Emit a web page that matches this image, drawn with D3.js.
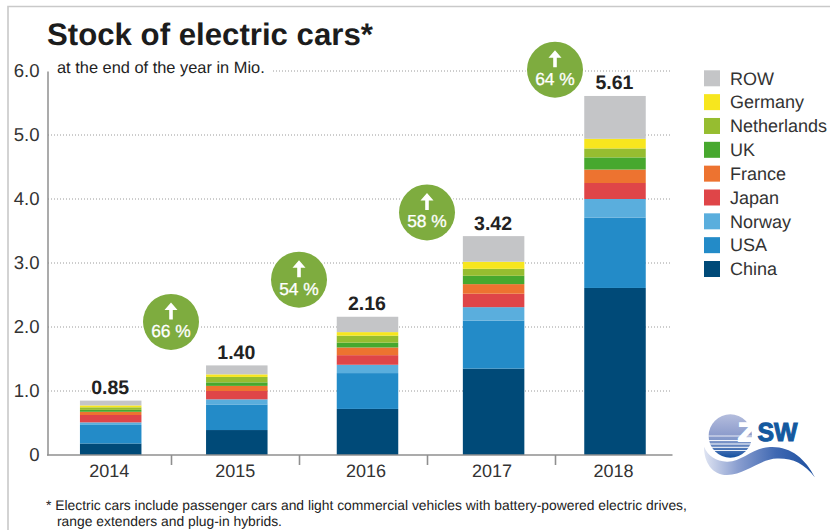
<!DOCTYPE html>
<html>
<head>
<meta charset="utf-8">
<script src="https://cdn.jsdelivr.net/npm/d3@7"></script>
<style>
  html, body { margin: 0; padding: 0; background: #fff; }
  svg { display: block; font-family: "Liberation Sans", Arial, sans-serif; text-rendering: geometricPrecision; }
</style>
</head>
<body>
<svg id="chart" width="830" height="530"></svg>
<script>
// Stock of electric cars by market, million vehicles at year end
const years = [2014, 2015, 2016, 2017, 2018];
const china = [0.18, 0.39, 0.72, 1.35, 2.61];
const usa = [0.29, 0.40, 0.56, 0.75, 1.10];
const norway = [0.04, 0.08, 0.13, 0.21, 0.29];
const japan = [0.115, 0.13, 0.15, 0.21, 0.25];
const france = [0.05, 0.08, 0.12, 0.15, 0.21];
const uk = [0.03, 0.055, 0.075, 0.13, 0.19];
const netherlands = [0.04, 0.085, 0.11, 0.11, 0.14];
const germany = [0.03, 0.04, 0.055, 0.11, 0.15];
const row = [0.075, 0.14, 0.24, 0.40, 0.67];
const totals = [0.85, 1.40, 2.16, 3.42, 5.61];
const growth = [66, 54, 58, 64];
const growthHeights = [2.08, 2.74, 3.79, 6.02];
const yTicks = [0, 1, 2, 3, 4, 5, 6];

const seriesNames = ["China", "USA", "Norway", "Japan", "France", "UK", "Netherlands", "Germany", "ROW"];
const seriesColors = ["#004a78", "#238bc8", "#5aaedd", "#df4548", "#ed7330", "#47a82e", "#96bd30", "#f7e61e", "#c4c5c7"];
const seriesValues = [china, usa, norway, japan, france, uk, netherlands, germany, row];

const svg = d3.select("#chart");
const ink = "#222";
const axisGrey = "#8f8f8f";

// Outer frame: only the top and left edges are visible
svg.append("path")
  .attr("d", d3.line()([[8, 530], [8, 6.5], [830, 6.5]]))
  .attr("fill", "none").attr("stroke", "#c9c9c9").attr("stroke-width", 1.6);

// Scales
const y = d3.scaleLinear().domain([0, 6]).range([455, 71]);
const barWidth = 61.5;
const xBar = d3.scaleOrdinal().domain(years).range([110.7, 236.8, 367.5, 493.6, 615]);
const xGap = d3.scaleLinear().domain([2014, 2017]).range([171, 555]);

// Dotted gridlines
svg.append("g").selectAll("line")
  .data(yTicks.filter(d => d > 0))
  .join("line")
  .attr("x1", 48).attr("x2", 672)
  .attr("y1", d => y(d)).attr("y2", d => y(d))
  .attr("stroke", "#9a9a9a").attr("stroke-width", 1).attr("stroke-dasharray", "1 2");

// Subtitle sits on the top gridline and interrupts it
svg.append("rect").attr("x", 48).attr("y", 60).attr("width", 225).attr("height", 20).attr("fill", "#fff");
svg.append("text").attr("x", 57).attr("y", 73)
  .attr("font-size", 16.4).attr("fill", ink)
  .text("at the end of the year in Mio.");

// Stacked bars
const table = years.map((yr, i) => {
  const rowObj = { year: yr };
  seriesNames.forEach((n, s) => { rowObj[n] = seriesValues[s][i]; });
  return rowObj;
});
const stacked = d3.stack().keys(seriesNames)(table);
svg.append("g").selectAll("g")
  .data(stacked)
  .join("g")
  .attr("fill", (d, i) => seriesColors[i])
  .selectAll("rect")
  .data(d => d)
  .join("rect")
  .attr("x", d => xBar(d.data.year) - barWidth / 2)
  .attr("width", barWidth)
  .attr("y", d => y(d[1]))
  .attr("height", d => y(d[0]) - y(d[1]));

// Y axis
const yAxis = svg.append("g")
  .attr("transform", "translate(47.5,0)")
  .call(d3.axisLeft(y).tickValues(yTicks).tickSize(0).tickPadding(8)
    .tickFormat(d => d === 0 ? "0" : d3.format(".1f")(d)));
yAxis.select(".domain").attr("stroke", axisGrey).attr("stroke-width", 1.5);
yAxis.selectAll("text").attr("font-size", 18.6).attr("font-family", "inherit").attr("fill", "#333");

// X axis: baseline and the tick marks between years
const xAxis = svg.append("g")
  .attr("transform", "translate(0,455)")
  .call(d3.axisBottom(xGap).tickValues(years.slice(0, 4)).tickSize(10).tickFormat(""));
xAxis.select(".domain").remove();
xAxis.selectAll("line").attr("stroke", axisGrey).attr("stroke-width", 1.6);
svg.append("line").attr("x1", 47).attr("x2", 672.5).attr("y1", 455).attr("y2", 455)
  .attr("stroke", axisGrey).attr("stroke-width", 1.3);

// Year labels
svg.append("g").selectAll("text")
  .data(years)
  .join("text")
  .attr("x", d => xBar(d) - 1.5)
  .attr("y", 477)
  .attr("text-anchor", "middle")
  .attr("font-size", 18).attr("fill", "#333")
  .text(d => d);

// Totals above each bar
svg.append("g").selectAll("text")
  .data(totals)
  .join("text")
  .attr("x", (d, i) => xBar(years[i]) - 0.5)
  .attr("y", d => y(d) - 6.5)
  .attr("text-anchor", "middle")
  .attr("font-size", 19.5).attr("font-weight", "bold").attr("fill", ink)
  .attr("stroke", "#fff").attr("stroke-width", 3).attr("paint-order", "stroke")
  .text(d => d.toFixed(2));

// Growth badges between consecutive years
const badge = svg.append("g").selectAll("g")
  .data(growth)
  .join("g")
  .attr("transform", (d, i) => `translate(${xGap(years[i])},${y(growthHeights[i])})`);
badge.append("circle").attr("r", 28).attr("fill", "#7eac3f")
  .attr("stroke", "#fff").attr("stroke-width", 3).attr("paint-order", "stroke");
badge.append("path")
  .attr("d", "M-1.8,-2.5 L-1.8,-12 L-6.5,-12 L0,-19.5 L6.5,-12 L1.8,-12 L1.8,-2.5 Z")
  .attr("fill", "#fff");
badge.append("text")
  .attr("y", 15).attr("text-anchor", "middle")
  .attr("font-size", 17.4).attr("fill", "#fff")
  .attr("stroke", "#fff").attr("stroke-width", 0.3)
  .text(d => `${d} %`);

// Title
svg.append("text").attr("x", 47).attr("y", 45)
  .attr("font-size", 31.2).attr("font-weight", "bold").attr("fill", "#1c1c1c")
  .text("Stock of electric cars*");

// Legend, listed from the top of the stack down
const legendScale = d3.scalePoint().domain(seriesNames.slice().reverse()).range([78.3, 269]);
const legend = svg.append("g").selectAll("g")
  .data(seriesNames.map((n, i) => ({ n, c: seriesColors[i] })))
  .join("g")
  .attr("transform", d => `translate(704,${legendScale(d.n)})`);
legend.append("rect").attr("y", -8).attr("width", 16).attr("height", 16).attr("fill", d => d.c);
legend.append("text").attr("x", 26).attr("y", 6.2)
  .attr("font-size", 18).attr("fill", "#333").text(d => d.n);

// Footnote
const footnote = svg.append("g").attr("font-size", 13.87).attr("fill", ink);
footnote.append("text").attr("x", 46).attr("y", 510)
  .text("* Electric cars include passenger cars and light commercial vehicles with battery-powered electric drives,");
footnote.append("text").attr("x", 57).attr("y", 526)
  .text("range extenders and plug-in hybrids.");

// ZSW logo
const defs = svg.append("defs");
const disc = defs.append("linearGradient").attr("id", "logoDisc")
  .attr("x1", 0).attr("y1", 0).attr("x2", 0).attr("y2", 1);
[[0, "#b4bddd"], [0.45, "#8f9ecd"], [0.62, "#7f97c9"], [1, "#124f9f"]]
  .forEach(([o, c]) => disc.append("stop").attr("offset", o).attr("stop-color", c));
const swoosh = defs.append("linearGradient").attr("id", "logoWave")
  .attr("x1", 0).attr("y1", 0).attr("x2", 1).attr("y2", 0);
[[0, "#dfe4f2"], [0.3, "#8b9fd0"], [0.65, "#3f68b2"], [1, "#1c4f9f"]]
  .forEach(([o, c]) => swoosh.append("stop").attr("offset", o).attr("stop-color", c));

const logo = svg.append("g");
logo.append("circle").attr("cx", 730.3).attr("cy", 436).attr("r", 21.7).attr("fill", "url(#logoDisc)");
[[436, 0.8], [440.5, 0.9], [444, 1], [447.3, 1], [450.5, 0.9]].forEach(([ly, w]) => {
  logo.append("line").attr("x1", 708).attr("x2", 753).attr("y1", ly).attr("y2", ly)
    .attr("stroke", "#fff").attr("stroke-width", w);
});
logo.append("path")
  .attr("d", "M704,446.7 C708,456 716,461 727,461.7 C742,462 752,448 770,447 C790,446 805,458 815,477.5 C804,463 792,458 777,458.5 C760,459 746,474.5 727,475 C712,475 704,462 704,446.7 Z")
  .attr("fill", "url(#logoWave)");
logo.append("text").attr("x", 738).attr("y", 441)
  .attr("font-size", 26).attr("font-weight", "bold").attr("fill", "#fff")
  .attr("stroke", "#fff").attr("stroke-width", 1.8)
  .attr("textLength", 19).attr("lengthAdjust", "spacingAndGlyphs").text("Z");
logo.append("text").attr("x", 757.5).attr("y", 441)
  .attr("font-size", 26).attr("font-weight", "bold").attr("fill", "#14599f")
  .attr("stroke", "#14599f").attr("stroke-width", 1.1)
  .attr("textLength", 40).attr("lengthAdjust", "spacingAndGlyphs").text("SW");
</script>
</body>
</html>
